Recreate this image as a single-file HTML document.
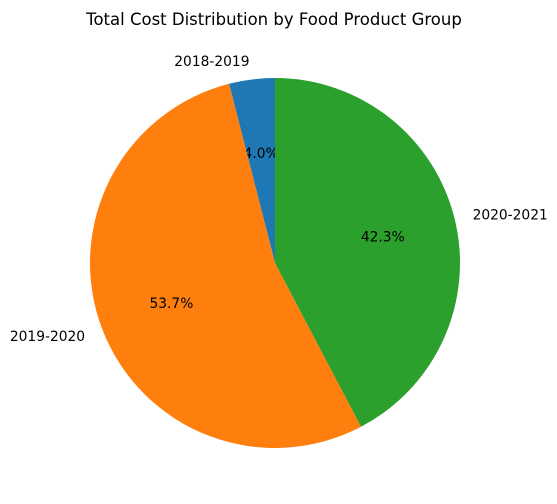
<!DOCTYPE html>
<html><head><meta charset="utf-8"><style>
html,body{margin:0;padding:0;background:#fff;}
svg{display:block;font-family:"DejaVu Sans","Liberation Sans",sans-serif;}
</style></head><body>
<svg id="chart" width="557" height="504" viewBox="0 0 557 504">
<text x="274" y="25" text-anchor="middle" font-size="16.5" fill="#000">Total Cost Distribution by Food Product Group</text>
<g id="slices"></g>
</svg>
<script>
const categories = ["2018-2019", "2019-2020", "2020-2021"];
const values = [4.0, 53.7, 42.3];
const pctLabels = ["4.0%", "53.7%", "42.3%"];
const colors = ["#1f77b4", "#ff7f0e", "#2ca02c"];
const cx = 275, cy = 263, r = 185;
const g = document.getElementById('slices');
const NS = "http://www.w3.org/2000/svg";
const total = values.reduce((a,b)=>a+b,0);
let start = 90;
function pt(deg, rad){ const a = deg*Math.PI/180; return [cx + rad*Math.cos(a), cy - rad*Math.sin(a)]; }
values.forEach((v,i)=>{
  const sweep = v/total*360;
  const end = start + sweep;
  const [x1,y1] = pt(start, r), [x2,y2] = pt(end, r);
  const large = sweep > 180 ? 1 : 0;
  const p = document.createElementNS(NS,'path');
  p.setAttribute('d', `M${cx},${cy} L${x1},${y1} A${r},${r} 0 ${large} 0 ${x2},${y2} Z`);
  p.setAttribute('fill', colors[i]);
  
  
  g.appendChild(p);
  const mid = start + sweep/2;
  const [lx,ly] = pt(mid, r*1.1);
  const t = document.createElementNS(NS,'text');
  t.setAttribute('x', lx); t.setAttribute('y', ly + 5);
  t.setAttribute('font-size', '13.8');
  t.setAttribute('text-anchor', Math.cos(mid*Math.PI/180) < 0 ? 'end' : 'start');
  t.textContent = categories[i];
  
  
  g.appendChild(t);
  const [px,py] = pt(mid, r*0.6);
  const t2 = document.createElementNS(NS,'text');
  t2.setAttribute('x', px); t2.setAttribute('y', py + 5);
  t2.setAttribute('font-size', '13.8');
  t2.setAttribute('text-anchor', 'middle');
  t2.textContent = pctLabels[i];
  
  
  g.appendChild(t2);
  start = end;
});
</script>
</body></html>
